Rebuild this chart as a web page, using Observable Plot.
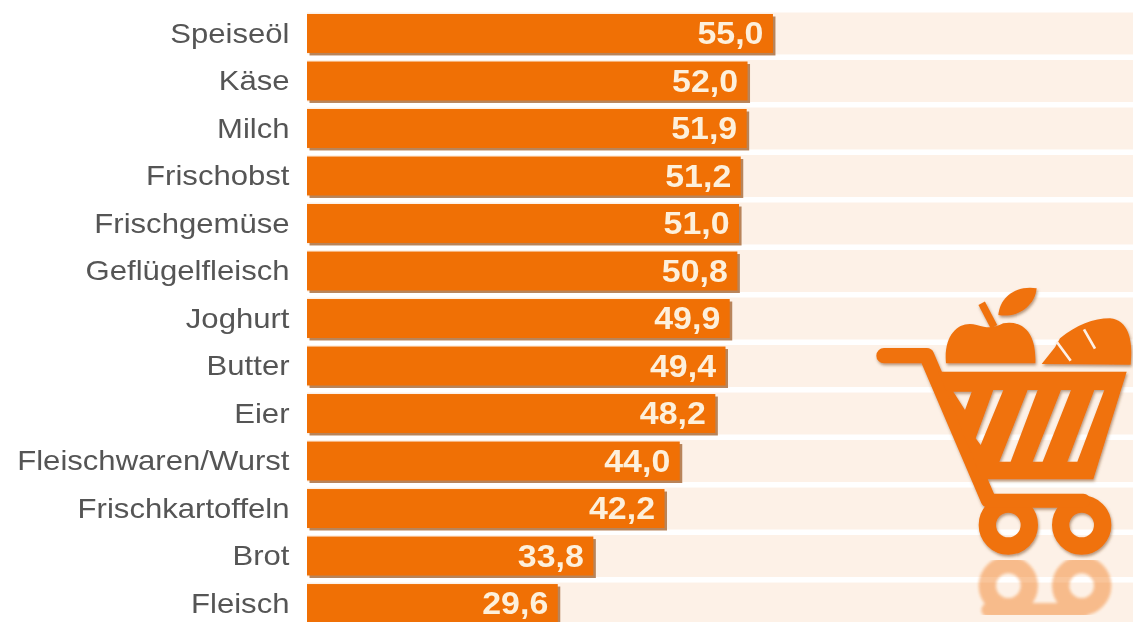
<!DOCTYPE html>
<html lang="de">
<head>
<meta charset="utf-8">
<script src="https://cdn.jsdelivr.net/npm/d3@7"></script>
<script src="https://cdn.jsdelivr.net/npm/@observablehq/plot@0.6"></script>
<style>
  html, body { margin: 0; padding: 0; background: #fff; overflow: hidden; }
  #wrap { position: relative; width: 1133px; height: 622px; overflow: hidden; filter: blur(0.7px); }
  #chart svg { display: block; }
  svg#cart { position: absolute; left: 860px; top: 270px; width: 273px; height: 352px; overflow: hidden; }
</style>
</head>
<body>
<div id="wrap">
  <div id="chart"></div>
  <svg id="cart" viewBox="0 0 819 1056" aria-hidden="true">
    <defs>
      <g id="wheels" fill="none" stroke="#f0720f" stroke-width="52">
        <circle cx="445" cy="765" r="63"/>
        <circle cx="665" cy="765" r="63"/>
        <path d="M385,692 H670" stroke-width="42" stroke-linecap="round"/>
      </g>
      <filter id="sh" x="-5%" y="-5%" width="110%" height="110%">
        <feDropShadow dx="3" dy="6" stdDeviation="4" flood-color="#7a4a20" flood-opacity="0.55"/>
      </filter>
      <filter id="soft"><feGaussianBlur stdDeviation="5"/></filter>
    </defs>
    <g filter="url(#sh)">
      <use href="#wheels"/>
      <path d="M72,257 H200 L385,690" fill="none" stroke="#f0720f" stroke-width="46" stroke-linecap="round" stroke-linejoin="round"/>
      <path fill="#f0720f" fill-rule="evenodd" d="M235,305 H800 L700,628 H365 Z
        M280,365 H335 L315,420 Z
        M400,360 H430 L362,525 L347,505 Z
        M503,360 H533 L452,575 H418 Z
        M603,360 H633 L548,575 H518 Z
        M703,360 H733 L652,575 H622 Z"/>
      <path fill="#f0720f" d="M258,280 C250,190 300,150 350,165 C385,175 400,175 430,160 C490,150 530,190 526,280 Z"/>
      <path d="M365,100 L402,170" fill="none" stroke="#f0720f" stroke-width="22"/>
      <path fill="#f0720f" d="M415,135 C420,80 470,45 530,55 C525,110 470,145 415,135 Z"/>
      <path fill="#f0720f" d="M545,282 L585,232 L600,205 C650,165 700,145 750,145 C805,150 820,210 812,284 Z"/>
      <path d="M590,215 L632,272 M672,178 L705,236" fill="none" stroke="#fdf0e6" stroke-width="8"/>
    </g>
    <g opacity="0.42" filter="url(#soft)" transform="translate(0,1712) scale(1,-1)">
      <use href="#wheels"/>
    </g>
  </svg>
</div>
<script>
const names = ["Speiseöl","Käse","Milch","Frischobst","Frischgemüse","Geflügelfleisch","Joghurt","Butter","Eier","Fleischwaren/Wurst","Frischkartoffeln","Brot","Fleisch"];
const shares = [55.0,52.0,51.9,51.2,51.0,50.8,49.9,49.4,48.2,44.0,42.2,33.8,29.6];
const visibleMax = 97.5;

const rows = names.map((name, i) => ({name, value: shares[i], label: shares[i].toFixed(1).replace(".", ",")}));

const plot = Plot.plot({
  width: 1133,
  height: 622,
  marginLeft: 307,
  marginRight: 0,
  marginTop: 0,
  marginBottom: 0,
  style: {background: "transparent", fontFamily: "'Liberation Sans', Arial, sans-serif"},
  x: {domain: [0, visibleMax], range: [307, 1133], axis: null},
  y: {domain: names, range: [14, 623], paddingInner: 0.18, paddingOuter: 0, round: false, label: null},
  marks: [
    Plot.barX(rows, {y: "name", x1: 0, x2: () => visibleMax, fill: "#fdf1e7", insetTop: -1.5, insetBottom: -1.5}),
    Plot.barX(rows, {y: "name", x: "value", fill: "#b8845a", dx: 2.5, dy: 2.5}),
    Plot.barX(rows, {y: "name", x: "value", fill: "#f07005"}),
    Plot.axisY({
      anchor: "left",
      tickSize: 0,
      tickPadding: 0,
      dx: -18,
      fontSize: 28,
      color: "#555555",
      fill: "#555555",
      label: null
    }),
    Plot.text(rows, {
      y: "name",
      x: "value",
      text: "label",
      textAnchor: "end",
      dx: -10,
      fill: "#fdf0dc",
      fontSize: 32,
      fontWeight: "bold"
    })
  ]
});
document.getElementById("chart").append(plot);

// The reference's type is horizontally stretched: widen the glyphs, keep the text real.
function stretch(selector, factor) {
  plot.querySelectorAll(selector).forEach(t => {
    t.setAttribute("lengthAdjust", "spacingAndGlyphs");
    t.setAttribute("textLength", (t.getComputedTextLength() * factor).toFixed(1));
  });
}
stretch('g[aria-label="y-axis tick label"] text', 1.11);
stretch('g[aria-label="text"] text', 1.06);
</script>
</body>
</html>
